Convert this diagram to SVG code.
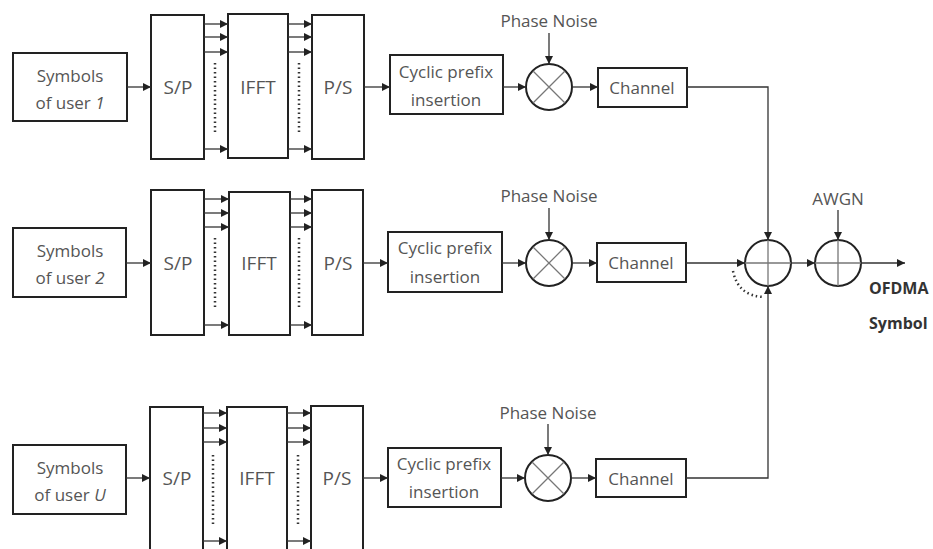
<svg xmlns="http://www.w3.org/2000/svg" width="933" height="549" viewBox="0 0 933 549">
<defs>
<style>
.b{fill:#fff;stroke:#222;stroke-width:2}
.c{fill:none;stroke:#333;stroke-width:1.3}
.cd{fill:none;stroke:#333;stroke-width:2.5;stroke-dasharray:1.5 3}
.x{fill:none;stroke:#777;stroke-width:1.3}
.t{font-family:"Open Sans","Liberation Sans",sans-serif;font-size:17px;fill:#555;text-anchor:middle}
.big{font-size:19px}
.tb{font-family:"Open Sans","Liberation Sans",sans-serif;font-size:16px;font-weight:bold;fill:#333}
</style>
<marker id="ah" viewBox="0 0 10 10" refX="10" refY="5" markerWidth="8" markerHeight="8" markerUnits="userSpaceOnUse" orient="auto"><path d="M0,0 L10,5 L0,10 z" fill="#222"/></marker>
</defs>
<rect width="933" height="549" fill="#fff"/>

<g id="sym1"><rect class="b" x="13" y="53" width="114" height="68"/><text class="t" x="70" y="82">Symbols</text><text class="t" x="70" y="109">of user <tspan font-style="italic">1</tspan></text></g>
<g id="sp1"><rect class="b" x="151" y="15" width="53" height="144"/><text class="t big" x="178" y="94">S/P</text></g>
<g id="ifft1"><rect class="b" x="228" y="14" width="60" height="144"/><text class="t big" x="258" y="94">IFFT</text></g>
<g id="ps1"><rect class="b" x="312" y="15" width="52" height="144"/><text class="t big" x="338" y="94">P/S</text></g>
<g id="cp1"><rect class="b" x="390" y="55" width="113" height="59"/><text class="t" x="446" y="78">Cyclic prefix</text><text class="t" x="446" y="106">insertion</text></g>
<g id="pn1"><text class="t" x="549" y="27">Phase Noise</text></g>
<g id="mul1"><circle class="b" cx="549" cy="87" r="23"/><path class="x" d="M533,71 L565,103 M565,71 L533,103"/></g>
<g id="ch1"><rect class="b" x="598" y="68" width="89" height="39"/><text class="t" x="642" y="94">Channel</text></g>

<g id="sym2"><rect class="b" x="13" y="228" width="113" height="69"/><text class="t" x="70" y="257">Symbols</text><text class="t" x="70" y="284">of user <tspan font-style="italic">2</tspan></text></g>
<g id="sp2"><rect class="b" x="151" y="190" width="53" height="145"/><text class="t big" x="178" y="270">S/P</text></g>
<g id="ifft2"><rect class="b" x="229" y="192" width="61" height="143"/><text class="t big" x="259" y="270">IFFT</text></g>
<g id="ps2"><rect class="b" x="312" y="190" width="51" height="145"/><text class="t big" x="338" y="270">P/S</text></g>
<g id="cp2"><rect class="b" x="388" y="232" width="114" height="60"/><text class="t" x="445" y="254">Cyclic prefix</text><text class="t" x="445" y="283">insertion</text></g>
<g id="pn2"><text class="t" x="549" y="202">Phase Noise</text></g>
<g id="mul2"><circle class="b" cx="549" cy="263" r="23"/><path class="x" d="M533,247 L565,279 M565,247 L533,279"/></g>
<g id="ch2"><rect class="b" x="597" y="243" width="89" height="39"/><text class="t" x="641" y="269">Channel</text></g>

<g id="sym3"><rect class="b" x="13" y="445" width="113" height="69"/><text class="t" x="70" y="474">Symbols</text><text class="t" x="70" y="501">of user <tspan font-style="italic">U</tspan></text></g>
<g id="sp3"><rect class="b" x="150" y="407" width="53" height="146"/><text class="t big" x="177" y="485">S/P</text></g>
<g id="ifft3"><rect class="b" x="227" y="407" width="60" height="146"/><text class="t big" x="257" y="485">IFFT</text></g>
<g id="ps3"><rect class="b" x="311" y="406" width="52" height="147"/><text class="t big" x="337" y="485">P/S</text></g>
<g id="cp3"><rect class="b" x="388" y="448" width="113" height="59"/><text class="t" x="444" y="470">Cyclic prefix</text><text class="t" x="444" y="498">insertion</text></g>
<g id="pn3"><text class="t" x="548" y="419">Phase Noise</text></g>
<g id="mul3"><circle class="b" cx="548" cy="478" r="23"/><path class="x" d="M532,462 L564,494 M564,462 L532,494"/></g>
<g id="ch3"><rect class="b" x="596" y="459" width="90" height="38"/><text class="t" x="641" y="485">Channel</text></g>

<g id="sum"><circle class="b" cx="768" cy="263" r="23"/><path class="x" d="M745,263 L791,263 M768,240 L768,286"/></g>
<g id="awgn"><text class="t" x="838" y="205">AWGN</text><circle class="b" cx="838" cy="263" r="23"/><path class="x" d="M815,263 L861,263 M838,240 L838,286"/></g>
<g id="out"><text class="tb" x="869" y="294">OFDMA</text><text class="tb" x="869" y="329">Symbol</text></g>

<g id="connectors">
<path class="c" marker-end="url(#ah)" d="M127,87 L151,87"/>
<path class="c" marker-end="url(#ah)" d="M204,24 L228,24"/>
<path class="c" marker-end="url(#ah)" d="M204,37 L228,37"/>
<path class="c" marker-end="url(#ah)" d="M204,52 L228,52"/>
<path class="c" marker-end="url(#ah)" d="M204,149 L228,149"/>
<path class="cd" d="M215,63 L215,134"/>
<path class="c" marker-end="url(#ah)" d="M288,24 L312,24"/>
<path class="c" marker-end="url(#ah)" d="M288,37 L312,37"/>
<path class="c" marker-end="url(#ah)" d="M288,52 L312,52"/>
<path class="c" marker-end="url(#ah)" d="M288,149 L312,149"/>
<path class="cd" d="M299,63 L299,134"/>
<path class="c" marker-end="url(#ah)" d="M364,87 L390,87"/>
<path class="c" marker-end="url(#ah)" d="M503,87 L526,87"/>
<path class="c" marker-end="url(#ah)" d="M549,33 L549,64"/>
<path class="c" marker-end="url(#ah)" d="M572,87 L598,87"/>
<path class="c" marker-end="url(#ah)" d="M687,87 L768,87 L768,240"/>

<path class="c" marker-end="url(#ah)" d="M126,263 L151,263"/>
<path class="c" marker-end="url(#ah)" d="M204,199 L229,199"/>
<path class="c" marker-end="url(#ah)" d="M204,213 L229,213"/>
<path class="c" marker-end="url(#ah)" d="M204,227 L229,227"/>
<path class="c" marker-end="url(#ah)" d="M204,325 L229,325"/>
<path class="cd" d="M215,238 L215,309"/>
<path class="c" marker-end="url(#ah)" d="M290,199 L312,199"/>
<path class="c" marker-end="url(#ah)" d="M290,213 L312,213"/>
<path class="c" marker-end="url(#ah)" d="M290,227 L312,227"/>
<path class="c" marker-end="url(#ah)" d="M290,325 L312,325"/>
<path class="cd" d="M299,238 L299,309"/>
<path class="c" marker-end="url(#ah)" d="M363,263 L388,263"/>
<path class="c" marker-end="url(#ah)" d="M502,263 L526,263"/>
<path class="c" marker-end="url(#ah)" d="M549,208 L549,240"/>
<path class="c" marker-end="url(#ah)" d="M572,263 L597,263"/>
<path class="c" marker-end="url(#ah)" d="M686,263 L745,263"/>

<path class="c" marker-end="url(#ah)" d="M126,478 L150,478"/>
<path class="c" marker-end="url(#ah)" d="M203,413 L227,413"/>
<path class="c" marker-end="url(#ah)" d="M203,428 L227,428"/>
<path class="c" marker-end="url(#ah)" d="M203,442 L227,442"/>
<path class="c" marker-end="url(#ah)" d="M203,541 L227,541"/>
<path class="cd" d="M213,455 L213,525"/>
<path class="c" marker-end="url(#ah)" d="M287,413 L311,413"/>
<path class="c" marker-end="url(#ah)" d="M287,428 L311,428"/>
<path class="c" marker-end="url(#ah)" d="M287,442 L311,442"/>
<path class="c" marker-end="url(#ah)" d="M287,541 L311,541"/>
<path class="cd" d="M298,455 L298,525"/>
<path class="c" marker-end="url(#ah)" d="M363,478 L388,478"/>
<path class="c" marker-end="url(#ah)" d="M501,478 L525,478"/>
<path class="c" marker-end="url(#ah)" d="M548,424 L548,455"/>
<path class="c" marker-end="url(#ah)" d="M571,478 L596,478"/>
<path class="c" marker-end="url(#ah)" d="M686,478 L768,478 L768,286"/>

<path class="cd" d="M733,271 Q738,296 764,297"/>
<path class="c" marker-end="url(#ah)" d="M791,263 L815,263"/>
<path class="c" marker-end="url(#ah)" d="M838,210 L838,240"/>
<path class="c" marker-end="url(#ah)" d="M861,263 L905,263"/>
</g>
</svg>
